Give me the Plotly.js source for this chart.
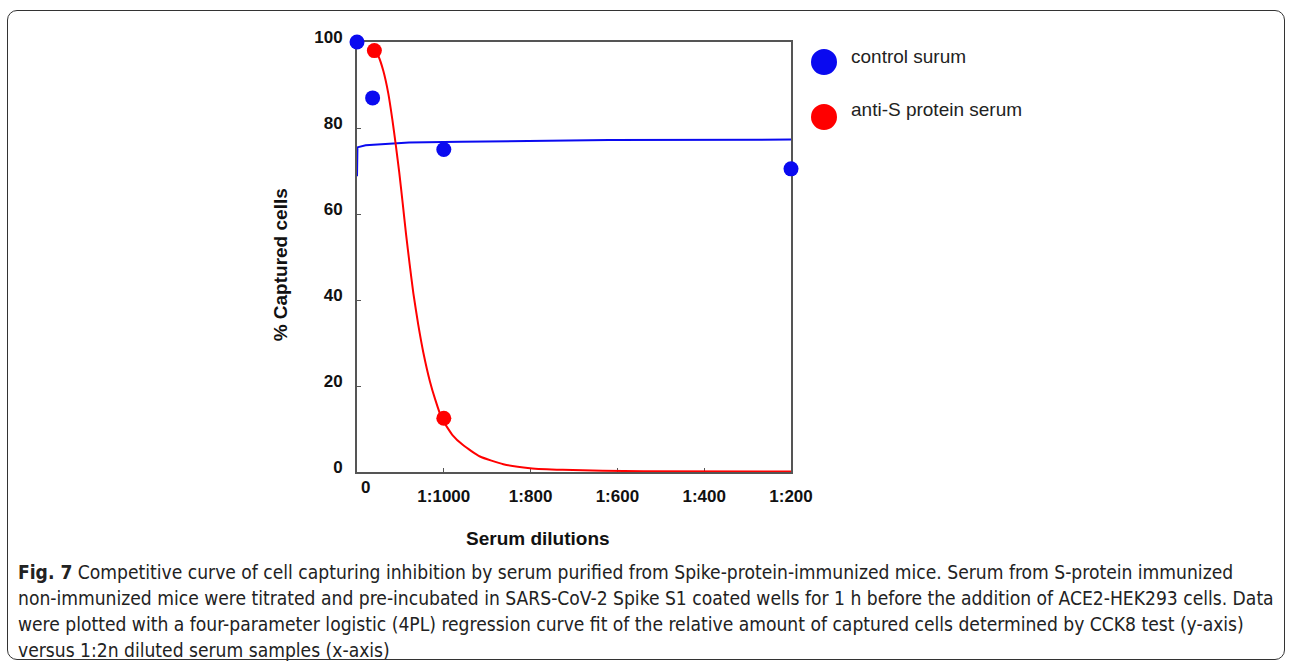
<!DOCTYPE html>
<html>
<head>
<meta charset="utf-8">
<script src="https://cdn.plot.ly/plotly-3.0.1.min.js"></script>
<style>
  html, body { margin: 0; padding: 0; background: #fff; }
  #wrap { position: relative; width: 1292px; height: 670px; }
  #chart { position: absolute; left: 0; top: 0; width: 1292px; height: 670px; }
  #frame { position: absolute; left: 7px; top: 10px; width: 1276px; height: 648px;
           border: 1.5px solid #333; border-radius: 10px; pointer-events: none; }
</style>
</head>
<body>
<div id="wrap">
  <div id="chart"></div>
  <div id="frame"></div>
</div>
<script>
// Tick positions and labels (serum dilutions)
const xTicks = [0, 1, 2, 3, 4, 5];
const xLabels = ['0', '1:1000', '1:800', '1:600', '1:400', '1:200'];
const yTicks = [0, 20, 40, 60, 80, 100];

// Measured points
const controlX = [0, 0.18, 1, 5];
const controlY = [100, 87, 75, 70.5];
const antiSX = [0.2, 1, 5];
const antiSY = [98, 12.5, -0.5];

// Fitted 4PL curves
const controlFitX = [0, 0.005, 0.1, 0.3, 0.6, 1.2, 2.2, 2.9, 5];
const controlFitY = [68.8, 75.5, 76.0, 76.3, 76.6, 76.8, 77.0, 77.2, 77.3];
const antiSFitX = [0.207, 0.245, 0.303, 0.361, 0.407, 0.446, 0.487, 0.527, 0.565, 0.605, 0.649, 0.706, 0.764, 0.841, 0.899, 0.976, 1.1, 1.225, 1.417, 1.686, 1.993, 2.37, 2.83, 3.3, 5];
const antiSFitY = [98.1, 96.8, 93.3, 88.0, 82.0, 76.2, 69.6, 62.4, 55.3, 48.6, 41.6, 34.2, 27.8, 21.0, 17.0, 12.5, 8.6, 6.2, 3.6, 1.8, 0.9, 0.5, 0.3, 0.2, 0.1];

const seriesNames = ['control surum', 'anti-S protein serum'];
const seriesColors = ['#0a0af0', '#ff0000'];

const xTitle = 'Serum dilutions';
const yTitle = '% Captured cells';
const captionLines = [
  '<b>Fig. 7</b> Competitive curve of cell capturing inhibition by serum purified from Spike-protein-immunized mice. Serum from S-protein immunized',
  'non-immunized mice were titrated and pre-incubated in SARS-CoV-2 Spike S1 coated wells for 1 h before the addition of ACE2-HEK293 cells. Data',
  'were plotted with a four-parameter logistic (4PL) regression curve fit of the relative amount of captured cells determined by CCK8 test (y-axis)',
  'versus 1:2n diluted serum samples (x-axis)'
];

const traces = [
  { x: controlFitX, y: controlFitY, mode: 'lines', line: { color: seriesColors[0], width: 2 }, showlegend: false, hoverinfo: 'skip', cliponaxis: false },
  { x: antiSFitX, y: antiSFitY, mode: 'lines', line: { color: seriesColors[1], width: 2, shape: 'spline', smoothing: 0.5 }, showlegend: false, hoverinfo: 'skip', cliponaxis: false },
  { x: controlX, y: controlY, mode: 'markers', name: seriesNames[0], marker: { color: seriesColors[0], size: 15 }, showlegend: false, cliponaxis: false },
  { x: antiSX, y: antiSY, mode: 'markers', name: seriesNames[1], marker: { color: seriesColors[1], size: 15 }, showlegend: false, cliponaxis: false }
];

const axisFont = { family: 'Liberation Sans, Arial, sans-serif', size: 17, color: '#111', weight: 'bold' };
const textFont = 'Liberation Sans, Arial, sans-serif';

const annotations = [
  { text: xLabels[0], x: xTicks[0], xref: 'x', y: -0.035, yref: 'paper', xshift: 8, showarrow: false, font: axisFont, xanchor: 'center', yanchor: 'middle' },
  { text: '<b>' + xTitle + '</b>', x: 0.417, y: -0.1535, xref: 'paper', yref: 'paper', showarrow: false, font: { family: textFont, size: 19, color: '#111' }, xanchor: 'center', yanchor: 'middle' },
  { text: '<b>' + yTitle + '</b>', x: -0.177, y: 0.481, xref: 'paper', yref: 'paper', showarrow: false, textangle: -90, font: { family: textFont, size: 19, color: '#111' }, xanchor: 'center', yanchor: 'middle' },
  { text: seriesNames[0], x: 1.1336, y: 0.967, xref: 'paper', yref: 'paper', showarrow: false, font: { family: textFont, size: 19, color: '#222' }, xanchor: 'left', yanchor: 'middle' },
  { text: seriesNames[1], x: 1.1336, y: 0.842, xref: 'paper', yref: 'paper', showarrow: false, font: { family: textFont, size: 19, color: '#222' }, xanchor: 'left', yanchor: 'middle' }
];
captionLines.forEach((line, i) => {
  annotations.push({ text: line, x: -0.7857, y: -0.233 - i * 26 / 430, xref: 'paper', yref: 'paper', showarrow: false, xanchor: 'left', yanchor: 'middle', align: 'left',
    font: { family: 'DejaVu Sans Condensed, Liberation Sans Narrow, sans-serif', size: 19.1, color: '#222' } });
});

function pxToPaperX(px) { return (px - 357) / 434; }
const shapes = [
  { type: 'circle', xref: 'paper', yref: 'paper', xsizemode: 'pixel', ysizemode: 'pixel', xanchor: pxToPaperX(824), yanchor: 0.9535, x0: -13, x1: 13, y0: -13, y1: 13, fillcolor: seriesColors[0], line: { width: 0 } },
  { type: 'circle', xref: 'paper', yref: 'paper', xsizemode: 'pixel', ysizemode: 'pixel', xanchor: pxToPaperX(824), yanchor: 0.8256, x0: -13, x1: 13, y0: -13, y1: 13, fillcolor: seriesColors[1], line: { width: 0 } }
];

const layout = {
  width: 1292, height: 670,
  margin: { l: 357, r: 501, t: 42, b: 198 },
  paper_bgcolor: '#fff', plot_bgcolor: '#fff',
  showlegend: false,
  xaxis: {
    range: [0, 5], tickvals: xTicks.slice(1), ticktext: xLabels.slice(1),
    showgrid: false, zeroline: false, showline: true, linecolor: '#555', linewidth: 2, mirror: true, layer: 'below traces',
    ticks: 'inside', ticklen: 4, tickcolor: '#555', tickfont: axisFont, ticklabelstandoff: 8
  },
  yaxis: {
    range: [0, 100], tickvals: yTicks, ticktext: yTicks.map(String),
    showgrid: false, zeroline: false, showline: true, linecolor: '#555', linewidth: 2, mirror: true, layer: 'below traces',
    ticks: 'inside', ticklen: 4, tickcolor: '#555', tickfont: axisFont, ticklabelstandoff: 9, ticklabelshift: -5
  },
  annotations: annotations,
  shapes: shapes
};

Plotly.newPlot('chart', traces, layout, { staticPlot: true, displayModeBar: false });
</script>
</body>
</html>
